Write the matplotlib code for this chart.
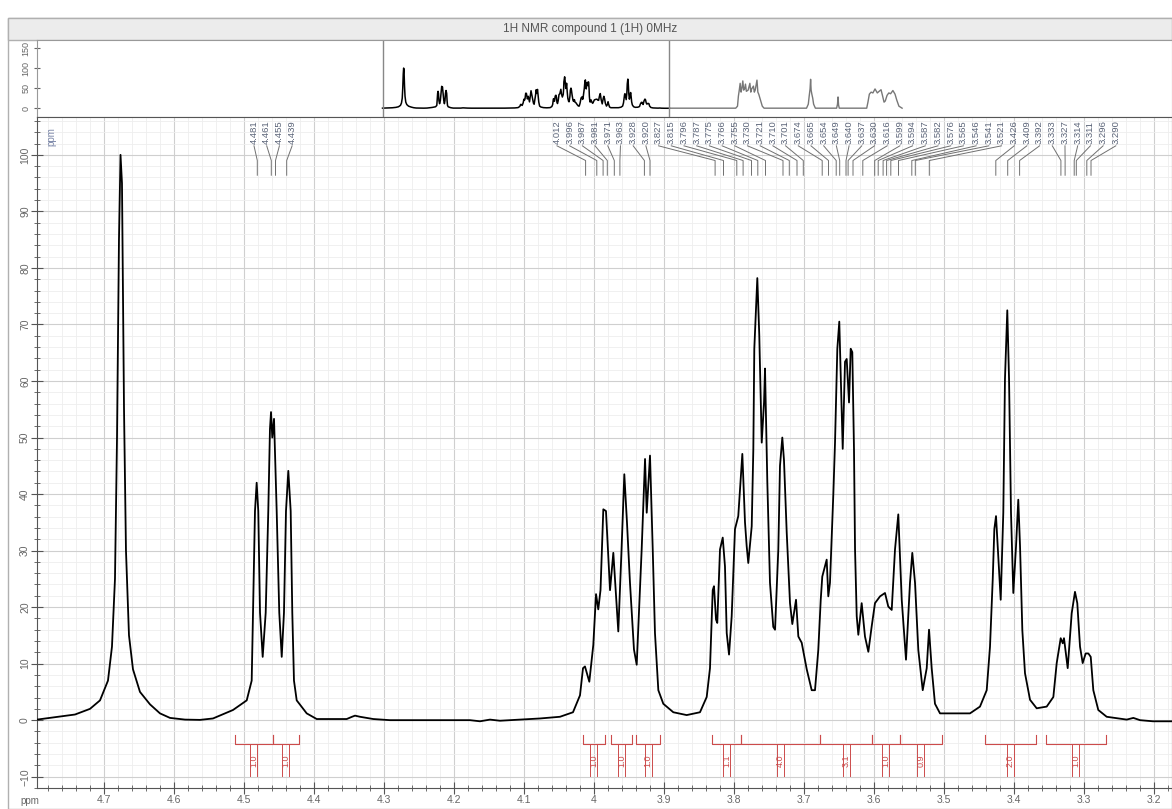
import numpy as np
import matplotlib
matplotlib.use("Agg")
import matplotlib.pyplot as plt
from matplotlib.ticker import MultipleLocator, FuncFormatter
from matplotlib.patches import Rectangle

plt.rcParams['font.family'] = ['Liberation Sans', 'DejaVu Sans']

# spectrum (chemical shift in ppm, relative intensity)
ppm = [4.7957, 4.7657, 4.7414, 4.72, 4.7057, 4.6943, 4.6886, 4.6843, 4.6814, 4.6786,
       4.6764, 4.6743, 4.6714, 4.6686, 4.6643, 4.6586, 4.6486, 4.6343, 4.62, 4.6057,
       4.5843, 4.5629, 4.5443, 4.5157, 4.4961, 4.489, 4.4871, 4.4843, 4.4819, 4.4796,
       4.4771, 4.4733, 4.469, 4.4653, 4.4629, 4.4614, 4.4596, 4.4571, 4.4533, 4.4496,
       4.4461, 4.4429, 4.44, 4.4367, 4.4333, 4.431, 4.4286, 4.4247, 4.4104, 4.3961,
       4.3533, 4.3457, 4.3414, 4.3343, 4.3153, 4.2914, 4.1771, 4.1629, 4.1486, 4.1343,
       4.1057, 4.0771, 4.0486, 4.03, 4.02, 4.0157, 4.0129, 4.0067, 4.001, 3.9971,
       3.9939, 3.9907, 3.9867, 3.9829, 3.9771, 3.9724, 3.9653, 3.9607, 3.9567, 3.9529,
       3.9486, 3.9429, 3.939, 3.9319, 3.9271, 3.9247, 3.92, 3.9161, 3.9129, 3.9081,
       3.901, 3.8867, 3.8676, 3.8486, 3.839, 3.8343, 3.8304, 3.8286, 3.8257, 3.8239,
       3.82, 3.8161, 3.8129, 3.8104, 3.8071, 3.8033, 3.7986, 3.7939, 3.7881, 3.7843,
       3.7819, 3.7796, 3.7747, 3.7724, 3.771, 3.7667, 3.7639, 3.7614, 3.7604, 3.7571,
       3.7557, 3.7524, 3.7486, 3.7439, 3.7414, 3.7367, 3.7343, 3.731, 3.7286, 3.7247,
       3.72, 3.7167, 3.7114, 3.7081, 3.7033, 3.6961, 3.689, 3.6843, 3.6796, 3.6761,
       3.6739, 3.6676, 3.6653, 3.6629, 3.6581, 3.6557, 3.6524, 3.6496, 3.6461, 3.6447,
       3.6414, 3.639, 3.6357, 3.6333, 3.631, 3.6286, 3.6271, 3.6247, 3.6224, 3.6176,
       3.6129, 3.6081, 3.6033, 3.5986, 3.5914, 3.5843, 3.5796, 3.5747, 3.57, 3.5653,
       3.5604, 3.5543, 3.5486, 3.5453, 3.5414, 3.5367, 3.5304, 3.5247, 3.5214, 3.5176,
       3.5129, 3.5057, 3.4629, 3.4486, 3.439, 3.4343, 3.4304, 3.4281, 3.4257, 3.4233,
       3.419, 3.4153, 3.4129, 3.4096, 3.4071, 3.4043, 3.401, 3.3971, 3.3939, 3.3914,
       3.3881, 3.3843, 3.3771, 3.3676, 3.3533, 3.3438, 3.339, 3.3333, 3.3304, 3.3286,
       3.3233, 3.3176, 3.3129, 3.3096, 3.3057, 3.3019, 3.2976, 3.2938, 3.2904, 3.2867,
       3.2796, 3.2676, 3.239, 3.2295, 3.22, 3.2014, 3.1743]
intensity = [0.1, 0.6, 1.0, 2.0, 3.5, 7, 13, 25, 50, 85,
             100, 95, 55, 30, 15, 9, 5, 2.8, 1.2, 0.4,
             0.1, 0.05, 0.3, 1.8, 3.5, 7, 19, 37, 42, 37,
             19, 11.2, 19, 37, 51.5, 54.5, 50, 53.3, 37, 19,
             11.2, 19, 37, 44.1, 37, 19, 7, 3.5, 1.2, 0.2,
             0.2, 0.6, 0.8, 0.6, 0.2, 0, 0, -0.2, 0.1, -0.1,
             0.1, 0.3, 0.6, 1.4, 4.4, 9.2, 9.5, 6.8, 13.3, 22.3,
             19.6, 23, 37.3, 37, 23, 29.6, 15.7, 30, 43.5, 35,
             24.3, 12.5, 9.8, 30.2, 46.2, 36.7, 46.8, 30.2, 15.4, 5.3,
             2.9, 1.4, 0.9, 1.4, 4.1, 9.2, 23, 23.7, 17.8, 17.2,
             30.2, 32.3, 27.2, 15.4, 11.6, 18.4, 33.8, 36.1, 47.1, 35,
             30.8, 27.8, 34.3, 47.9, 65.7, 78.2, 68.1, 53.9, 49.1, 56.2,
             62.2, 42.1, 24.3, 16.5, 16, 30.2, 45, 50, 46, 33.2,
             20.7, 17, 21.3, 14.8, 13.7, 9, 5.3, 5.3, 12.4, 21.3,
             25.4, 28.4, 21.9, 24.3, 40, 49.1, 65.7, 70.5, 53.9, 48,
             63.4, 63.9, 56.2, 65.7, 65.1, 48, 30.2, 18.4, 15.1, 20.7,
             14.8, 12.1, 16.6, 20.7, 21.9, 22.5, 20.1, 19.5, 30.2, 36.4,
             21.3, 10.7, 24.3, 29.6, 24.3, 12.4, 5.3, 9.2, 16, 9.2,
             2.9, 1.2, 1.2, 2.4, 5.3, 13, 24.9, 33.8, 36.1, 30.8,
             21.3, 36.7, 60.4, 72.5, 60.4, 36.7, 22.5, 30.8, 39, 30.8,
             15.9, 8.3, 3.6, 2.1, 2.4, 4.1, 10.1, 14.5, 13.6, 14.5,
             9.2, 18.9, 22.7, 20.7, 13, 10.1, 11.8, 11.8, 11.2, 5.3,
             1.8, 0.6, 0.1, 0.4, 0, -0.2, -0.2]

# rest of the overview trace (outside the zoomed window)
tail_ppm = [3.1743, 2.80, 2.79, 2.785, 2.78, 2.775, 2.77, 2.765, 2.76, 2.755,
            2.75, 2.745, 2.74, 2.73, 2.72, 2.715, 2.71, 2.70, 2.695, 2.69,
            2.68, 2.675, 2.67, 2.66, 2.65, 2.64, 2.40, 2.39, 2.385, 2.38,
            2.377, 2.374, 2.37, 2.365, 2.36, 2.35, 2.23, 2.225, 2.222, 2.219,
            2.215, 2.06, 2.053, 2.045, 2.035, 2.025, 2.013, 2.0, 1.99, 1.979,
            1.97, 1.962, 1.955, 1.945, 1.935, 1.925, 1.912, 1.90, 1.89, 1.878, 1.86]
tail_int = [0, 0, 5, 30, 45, 62, 40, 50, 68, 45,
            48, 60, 42, 45, 62, 40, 48, 55, 40, 45,
            70, 40, 35, 20, 5, 0, 0, 10, 30, 48,
            72, 45, 35, 25, 10, 0, 0, 10, 28, 8,
            0, 0, 15, 35, 40, 38, 48, 38, 42, 46,
            30, 15, 18, 32, 38, 36, 44, 35, 20, 5, 0]

# picked peaks (two label fans)
peaks_a = [4.481, 4.461, 4.455, 4.439]
peaks_b = [4.012, 3.996, 3.987, 3.981, 3.971, 3.963, 3.928, 3.920, 3.827, 3.815,
           3.796, 3.787, 3.775, 3.766, 3.755, 3.730, 3.721, 3.710, 3.701, 3.674,
           3.665, 3.654, 3.649, 3.640, 3.637, 3.630, 3.616, 3.599, 3.594, 3.587,
           3.582, 3.576, 3.565, 3.546, 3.541, 3.521, 3.426, 3.409, 3.392, 3.333,
           3.327, 3.314, 3.311, 3.296, 3.290]

# integrals
int_start = [4.5129, 4.4586, 4.0157, 3.9757, 3.9400, 3.8314, 3.7900, 3.6771, 3.6029, 3.5629, 3.4414, 3.3543]
int_end = [4.4586, 4.4214, 3.9843, 3.9457, 3.9057, 3.7900, 3.6771, 3.6029, 3.5629, 3.5029, 3.3686, 3.2686]
int_label = ['1.0', '1.0', '1.0', '1.0', '1.0', '1.1', '4.0', '3.1', '1.0', '0.9', '2.0', '1.0']

W, H = 1172, 809
fig = plt.figure(figsize=(W / 100, H / 100), dpi=100)
fig.patch.set_facecolor('white')


def box(x0, y0, x1, y1):
    return [x0 / W, 1 - y1 / H, (x1 - x0) / W, (y1 - y0) / H]


# outer frame and title bar (kept behind the axes)
fig.patches.append(Rectangle((8 / W, 0), 1 - 8 / W, 1 - 18 / H, transform=fig.transFigure,
                             facecolor='white', edgecolor='#b0b0b0', lw=1, zorder=-5))
fig.patches.append(Rectangle((8 / W, 1 - 40 / H), 1 - 8 / W, 22 / H, transform=fig.transFigure,
                             facecolor='#ececec', edgecolor='#b0b0b0', lw=1, zorder=-5))
fig.text(590 / W, 1 - 29 / H, '1H NMR compound 1 (1H) 0MHz', ha='center', va='center',
         fontsize=8.5, color='#555555')

grey = '#666666'
red = '#cc4b4b'

# ---------- overview strip ----------
ov = fig.add_axes(box(37, 40, 1172, 117))
ov.plot(ppm, intensity, color='black', lw=1.1)
ov.plot(tail_ppm, tail_int, color='#777777', lw=1.0)
ov.set_xlim(6.748, 0.335)
ov.set_ylim(-22, 170)
ov.axvline(ppm[0], color='#888888', lw=1)
ov.axvline(ppm[-1], color='#888888', lw=1)
ov.set_xticks([])
ov.set_yticks([0, 50, 100, 150])
ov.tick_params(axis='y', direction='inout', length=5, labelsize=6.5, labelcolor=grey,
               color=grey, pad=2)
for lab in ov.get_yticklabels():
    lab.set_rotation(90)
    lab.set_va('center')
for s in ov.spines.values():
    s.set_color('#999999')

# ---------- main spectrum ----------
ax = fig.add_axes(box(37, 117, 1172, 788))
ax.set_axisbelow(True)
ax.plot(ppm, intensity, color='black', lw=1.3, zorder=3)
ax.set_xlim(4.7957, 3.1743)
ax.set_ylim(-12.0, 106.7)

ax.xaxis.set_major_locator(MultipleLocator(0.1))
ax.xaxis.set_minor_locator(MultipleLocator(0.02))
ax.xaxis.set_major_formatter(FuncFormatter(lambda v, p: '%g' % round(v, 2)))
ax.yaxis.set_major_locator(MultipleLocator(10))
ax.yaxis.set_minor_locator(MultipleLocator(2))
ax.grid(which='major', color='#cfcfcf', lw=0.8)
ax.grid(which='minor', color='#eeeeee', lw=0.6)
ax.tick_params(which='major', direction='inout', length=8, color='#555555',
               labelsize=7.5, labelcolor=grey)
ax.tick_params(which='minor', direction='inout', length=4, color='#555555')
ax.tick_params(axis='x', pad=1)
ax.tick_params(axis='y', pad=1)
for lab in ax.get_yticklabels():
    lab.set_rotation(90)
    lab.set_va('center')
for s in ax.spines.values():
    s.set_color('#555555')

fig.text(30 / W, 1 - 801 / H, 'ppm', ha='center', va='center', fontsize=7, color=grey)
ax.text(0.008, 0.985, 'ppm', transform=ax.transAxes, rotation=90, ha='left', va='top',
        fontsize=7, color='#7a86a8')

# peak labels fanned out above the spectrum
step = 12.7 / 700
label_base, knee, foot = 101.6, 99.0, 96.4
for group, first in ((peaks_a, 4.4857), (peaks_b, 4.0529)):
    for i, p in enumerate(group):
        lx = first - i * step
        ax.plot([lx, p, p], [label_base, knee, foot], color='#707070', lw=0.7, zorder=4)
        ax.text(lx, label_base + 0.3, '%.3f' % p, rotation=90, ha='center', va='bottom',
                fontsize=6.8, color='#5b6478', zorder=4)

# integration brackets under the baseline
h = -4.3
for a, b, t in zip(int_start, int_end, int_label):
    ax.plot([a, a, b, b], [h + 1.6, h, h, h + 1.6], color=red, lw=0.8, zorder=4)
    c = (a + b) / 2
    ax.plot([c + 0.005, c + 0.005], [h, h - 5.5], color=red, lw=0.7, zorder=4)
    ax.plot([c - 0.005, c - 0.005], [h, h - 5.5], color=red, lw=0.7, zorder=4)
    ax.text(c, h - 2.8, t, rotation=90, ha='center', va='center', fontsize=6.5,
            color=red, zorder=4)

fig.savefig('out.png', dpi=100)
